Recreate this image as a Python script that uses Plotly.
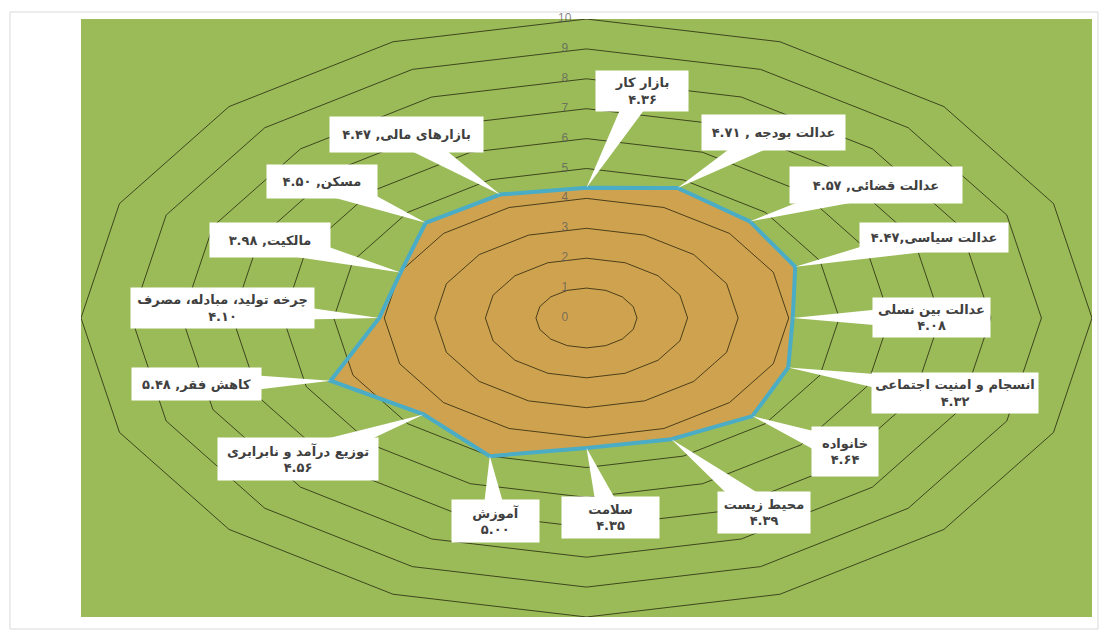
import numpy as np
import plotly.graph_objects as go

# Indicator names, clockwise from the top
categories = [
    "بازار کار",
    "عدالت بودجه",
    "عدالت قضائی",
    "عدالت سیاسی",
    "عدالت بین نسلی",
    "انسجام و امنیت اجتماعی",
    "خانواده",
    "محیط زیست",
    "سلامت",
    "آموزش",
    "توزیع درآمد و نابرابری",
    "کاهش فقر",
    "چرخه تولید، مبادله، مصرف",
    "مالکیت",
    "مسکن",
    "بازارهای مالی",
]
values = [4.36, 4.71, 4.57, 4.47, 4.08, 4.32, 4.64, 4.39,
          4.35, 5.00, 4.56, 5.48, 4.10, 3.98, 4.50, 4.47]
radial_ticks = [0, 1, 2, 3, 4, 5, 6, 7, 8, 9, 10]

# How each callout joins name and value
label_join = [
    "<br>", " , ", ", ", ",", "<br>", "<br>", "<br>", "<br>",
    "<br>", "<br>", "<br>", ", ", "<br>", ", ", ", ", ", ",
]
# Callout box centres (axis units) and box sizes (px)
label_xy = [
    (1.10, 7.59), (3.69, 6.22), (5.73, 4.45), (6.87, 2.68),
    (6.83, 0.03), (7.29, -2.51), (5.11, -4.48), (3.51, -6.49),
    (0.48, -6.66), (-1.81, -6.79), (-5.71, -4.72), (-7.71, -2.21),
    (-7.21, 0.33), (-6.26, 2.61), (-5.23, 4.58), (-3.57, 6.15),
]
label_box = [
    (92, 40), (143, 35), (172, 36), (148, 29),
    (117, 39), (166, 40), (66, 49), (92, 41),
    (97, 41), (87, 42), (160, 42), (129, 32),
    (183, 40), (120, 34), (110, 33), (153, 35),
]

W, H = 1108, 637
M_L, M_R, M_T, M_B = 81, 16, 19, 20
R_MAX = 10
px_x = (W - M_L - M_R) / (2 * R_MAX)
px_y = (H - M_T - M_B) / (2 * R_MAX)

n = len(categories)
theta = np.arange(n) * 2 * np.pi / n


def polar_xy(r):
    r = np.asarray(r, dtype=float)
    x = r * np.sin(theta)
    y = r * np.cos(theta)
    return np.append(x, x[0]), np.append(y, y[0])


def fa_num(v):
    s = f"{v:.2f}"
    return s.translate(str.maketrans("0123456789", "۰۱۲۳۴۵۶۷۸۹"))


fig = go.Figure()

# filled series area
vx, vy = polar_xy(values)
fig.add_trace(go.Scatter(
    x=vx, y=vy, mode="lines", fill="toself",
    fillcolor="#CFA24F", line=dict(width=0), hoverinfo="skip",
))

# concentric grid polygons
for k in radial_ticks[1:]:
    gx, gy = polar_xy([k] * n)
    fig.add_trace(go.Scatter(
        x=gx, y=gy, mode="lines",
        line=dict(color="rgba(25,25,5,0.72)", width=1),
        hoverinfo="skip",
    ))

# series outline
fig.add_trace(go.Scatter(
    x=vx, y=vy, mode="lines",
    line=dict(color="#4BACC6", width=4), hoverinfo="skip",
))

# radial tick labels along the top spoke
fig.add_trace(go.Scatter(
    x=[-0.43] * len(radial_ticks), y=radial_ticks, mode="text",
    text=[str(t) for t in radial_ticks],
    textfont=dict(family="Liberation Sans", size=12, color="rgba(90,90,90,0.75)"),
    textposition="middle center", cliponaxis=False, hoverinfo="skip",
))

shapes = []
annotations = []
PAD = 3
for i, (name, val) in enumerate(zip(categories, values)):
    tx = val * np.sin(theta[i])
    ty = val * np.cos(theta[i])
    bx, by = label_xy[i]
    # wedge from callout box to the data point, built in pixel space
    dx, dy = (tx - bx) * px_x, (ty - by) * px_y
    L = np.hypot(dx, dy)
    hw = 13
    ox, oy = -dy / L * hw, dx / L * hw
    p1 = (bx + ox / px_x, by + oy / px_y)
    p2 = (bx - ox / px_x, by - oy / px_y)
    shapes.append(dict(
        type="path", xref="x", yref="y",
        path=f"M {p1[0]:.4f} {p1[1]:.4f} L {tx:.4f} {ty:.4f} L {p2[0]:.4f} {p2[1]:.4f} Z",
        fillcolor="white", line=dict(width=0), layer="above",
    ))
    bw, bh = label_box[i]
    annotations.append(dict(
        x=bx, y=by, xref="x", yref="y", showarrow=False,
        text=f"{name}{label_join[i]}{fa_num(val)}",
        font=dict(family="DejaVu Sans", size=13, color="#404040", weight="bold"),
        bgcolor="white", borderpad=PAD, align="center",
        width=bw - 2 * PAD, height=bh - 2 * PAD,
    ))

# outer chart frame
shapes.append(dict(
    type="rect", xref="paper", yref="paper",
    x0=(10 - M_L) / (W - M_L - M_R), x1=(1098 - M_L) / (W - M_L - M_R),
    y0=-(629 - (H - M_B)) / (H - M_T - M_B), y1=1 + (M_T - 12) / (H - M_T - M_B),
    line=dict(color="#D9D9D9", width=1), layer="below",
))

fig.update_layout(
    width=W, height=H, autosize=False,
    margin=dict(l=M_L, r=M_R, t=M_T, b=M_B),
    paper_bgcolor="white", plot_bgcolor="#9BBB59",
    showlegend=False,
    xaxis=dict(range=[-R_MAX, R_MAX], visible=False, fixedrange=True),
    yaxis=dict(range=[-R_MAX, R_MAX], visible=False, fixedrange=True),
    shapes=shapes, annotations=annotations,
)

fig.write_html("out.html")
